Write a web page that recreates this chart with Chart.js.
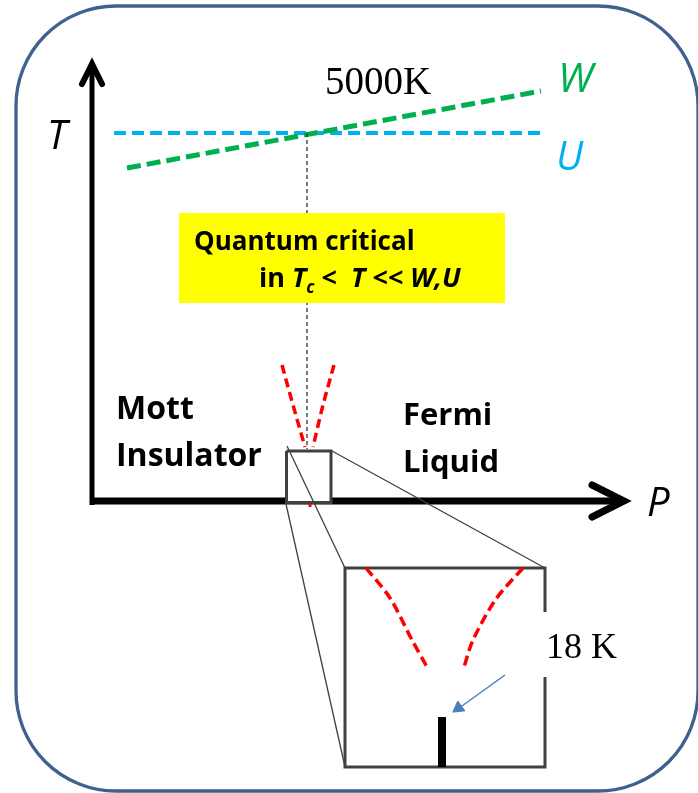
<!DOCTYPE html>
<html>
<head>
<meta charset="utf-8">
<script src="https://cdn.jsdelivr.net/npm/chart.js@4/dist/chart.umd.min.js"></script>
<style>
  html, body { margin: 0; padding: 0; background: #ffffff; }
  canvas { display: block; }
</style>
</head>
<body>
<canvas id="c" width="698" height="793"></canvas>
<script>
// Diagram coordinates: P (pressure, arbitrary units) and T (temperature, arbitrary units).
// Origin at the crossing of the two axes.
const tAxis        = [[0, -4], [0, 436]];
const tArrowHead   = [[-10, 417], [0, 437], [10, 417]];
const pAxis        = [[-2, 0], [531, 0]];
const pArrowHead   = [[500, 16], [532, 0], [500, -16]];
const uLine        = [[22, 368], [449, 368]];
const wLine        = [[35, 333], [449, 410]];
const crossingDrop = [[215, 368], [215, 52]];
const qcLeft       = [[190, 136], [201, 96], [213, 54]];
const qcRight      = [[242, 136], [231, 96], [221, 54]];
const qcStub       = [[218, -2], [218, -6]];
const smallBox     = [[194.5, 50], [239, 50], [239, -1.5], [194.5, -1.5], [194.5, 50]];
const zoomLineA    = [[195, 55], [253, -67]];
const zoomLineB    = [[194, -3], [253, -266]];
const zoomLineC    = [[240, 50], [453, -67]];
const bigBox       = [[453, -111], [453, -67], [253, -67], [253, -266], [453, -266], [453, -176]];
const zoomLeft     = [[274, -67], [298, -97], [320, -139], [335, -166]];
const zoomRight    = [[431, -67], [404, -98], [381, -139], [372, -166]];
const tcBar        = [[350, -216], [350, -266]];
const arrowShaft   = [[413, -174], [363, -210]];
const arrowTip     = [[366.5, -207]];

// Text labels: [text, P, T (baseline), font, colour]
const textLabels = [
  ['T', -45, 352, 'italic 40px "Open Sans"', '#000000'],
  ['P', 555, -15, 'italic 40px "Open Sans"', '#000000'],
  ['W', 466, 409, 'italic 41px "Open Sans"', '#00b050'],
  ['U', 464, 331, 'italic 40px "Open Sans"', '#00b0f0'],
  ['5000K', 233, 407, '39px "Liberation Serif"', '#000000'],
  ['18 K', 454, -157, '36px "Liberation Serif"', '#000000'],
  ['Mott', 24, 82, 'bold 32px "Open Sans"', '#000000'],
  ['Insulator', 24, 35, 'bold 32px "Open Sans"', '#000000'],
  ['Fermi', 311, 76, 'bold 31px "Open Sans"', '#000000'],
  ['Liquid', 311, 29, 'bold 31px "Open Sans"', '#000000'],
  ['Quantum critical', 102, 251, 'bold 26px "Open Sans"', '#000000']
];
// Second line of the yellow note: [text, font, baseline shift]
const noteLine2 = [
  ['in ', 'bold 27px "Open Sans"', 0],
  ['T', 'italic bold 27px "Open Sans"', 0],
  ['c', 'italic bold 17px "Open Sans"', 6],
  [' <  ', 'bold 27px "Open Sans"', 0],
  ['T << W,U', 'italic bold 27px "Open Sans"', 0]
];
const noteLine2Pos = [167, 214];
const noteBox = [[87, 288], [413, 198]];

function pts(a) { return a.map(p => ({ x: p[0], y: p[1] })); }
function seg(a, color, width, dash, extra) {
  return Object.assign({
    data: pts(a), showLine: true, borderColor: color, borderWidth: width,
    borderDash: dash || [], pointRadius: 0, pointHoverRadius: 0, fill: false, tension: 0,
    borderCapStyle: 'butt', borderJoinStyle: 'miter'
  }, extra || {});
}

const layers = [
  seg(tAxis, '#000000', 5),
  seg(tArrowHead, '#000000', 6, [], { borderCapStyle: 'round' }),
  seg(pAxis, '#000000', 7),
  seg(pArrowHead, '#000000', 7, [], { borderCapStyle: 'round' }),
  seg(uLine, '#00b0f0', 4, [12, 6]),
  seg(wLine, '#00b050', 5, [14, 6]),
  seg(crossingDrop, '#202020', 1.2, [4, 3]),
  seg(qcLeft, '#ff0000', 3.5, [9, 5], { tension: 0.3 }),
  seg(qcRight, '#ff0000', 3.5, [9, 5], { tension: 0.3 }),
  seg(qcStub, '#ff0000', 3),
  seg(smallBox, '#404040', 3, [], { fill: 'shape', backgroundColor: '#ffffff' }),
  seg(zoomLineA, '#404040', 1.3),
  seg(zoomLineB, '#404040', 1.3),
  seg(zoomLineC, '#404040', 1.3),
  seg(bigBox, '#404040', 3),
  seg(zoomLeft, '#ff0000', 3.5, [10, 5], { tension: 0.3 }),
  seg(zoomRight, '#ff0000', 3.5, [10, 5], { tension: 0.3 }),
  seg(tcBar, '#000000', 8),
  seg(arrowShaft, '#4a7ebb', 1.5),
  { data: pts(arrowTip), showLine: false, pointStyle: 'triangle', pointRadius: 7, pointHoverRadius: 7,
    pointRotation: 234, backgroundColor: '#4a7ebb', borderColor: '#4a7ebb', borderWidth: 1 }
];
layers.forEach((d, i) => { d.order = layers.length - i; });

const framePlugin = {
  id: 'frame',
  beforeDraw(chart) {
    const ctx = chart.ctx;
    ctx.save();
    ctx.fillStyle = '#ffffff';
    ctx.fillRect(0, 0, chart.width, chart.height);
    ctx.strokeStyle = '#3f6190';
    ctx.lineWidth = 3.3;
    ctx.beginPath();
    ctx.roundRect(16, 6, 682, 785, 100);
    ctx.stroke();
    ctx.restore();
  }
};

const labelPlugin = {
  id: 'labels',
  afterDatasetsDraw(chart) {
    const ctx = chart.ctx, xs = chart.scales.x, ys = chart.scales.y;
    ctx.save();
    const bx0 = xs.getPixelForValue(noteBox[0][0]), by0 = ys.getPixelForValue(noteBox[0][1]);
    const bx1 = xs.getPixelForValue(noteBox[1][0]), by1 = ys.getPixelForValue(noteBox[1][1]);
    ctx.fillStyle = '#ffff00';
    ctx.fillRect(bx0, by0, bx1 - bx0, by1 - by0);
    ctx.textBaseline = 'alphabetic';
    ctx.textAlign = 'left';
    textLabels.forEach(l => {
      ctx.font = l[3];
      ctx.fillStyle = l[4];
      ctx.fillText(l[0], xs.getPixelForValue(l[1]), ys.getPixelForValue(l[2]));
    });
    let x = xs.getPixelForValue(noteLine2Pos[0]);
    const y = ys.getPixelForValue(noteLine2Pos[1]);
    ctx.fillStyle = '#000000';
    noteLine2.forEach(s => {
      ctx.font = s[1];
      ctx.fillText(s[0], x, y + s[2]);
      x += ctx.measureText(s[0]).width;
    });
    ctx.restore();
  }
};

new Chart(document.getElementById('c'), {
  type: 'scatter',
  data: { datasets: layers },
  options: {
    responsive: false,
    animation: false,
    devicePixelRatio: 1,
    layout: { padding: 0, autoPadding: false },
    scales: {
      x: { type: 'linear', min: -92, max: 606, display: false },
      y: { type: 'linear', min: -292, max: 501, display: false }
    },
    plugins: { legend: { display: false }, tooltip: { enabled: false } },
    events: []
  },
  plugins: [framePlugin, labelPlugin]
});
</script>
</body>
</html>
